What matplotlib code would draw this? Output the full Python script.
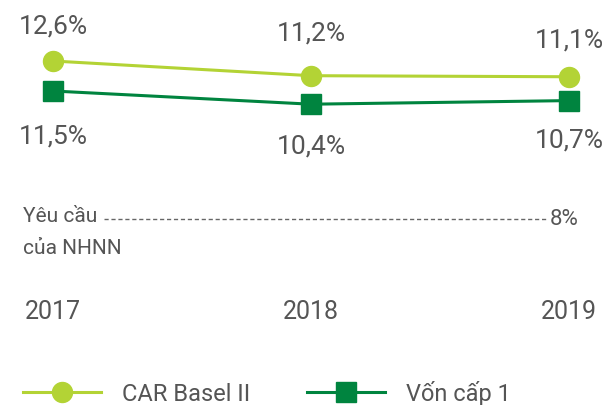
import numpy as np
import matplotlib
matplotlib.use("Agg")
import matplotlib.pyplot as plt
from matplotlib.lines import Line2D

plt.rcParams['font.family'] = ['Roboto', 'DejaVu Sans']

# data
years = ['2017', '2018', '2019']
car_basel = [12.6, 11.2, 11.1]
von_cap1 = [11.5, 10.4, 10.7]
car_labels = ['12,6%', '11,2%', '11,1%']
von_labels = ['11,5%', '10,4%', '10,7%']
req_label = 'Yêu cầu\ncủa NHNN'
req_value = '8%'
series_names = ['CAR Basel II', 'Vốn cấp 1']

light_green = '#b3d335'
dark_green = '#00843f'
text_grey = '#555555'

W, H = 603, 406
fig = plt.figure(figsize=(W / 100, H / 100), dpi=100)

def px_x(p):
    return p / W

def px_y(p):
    # pixel from top -> figure fraction
    return 1 - p / H

def set_ylim(ax, v0, p0, scale):
    top = v0 + p0 / scale
    ax.set_ylim(top - H / scale, top)

x = np.arange(len(years))

ax1 = fig.add_axes([0, 0, 1, 1])
ax2 = fig.add_axes([0, 0, 1, 1], sharex=ax1)
for ax in (ax1, ax2):
    ax.axis('off')
    ax.patch.set_alpha(0)

# x: 2017 at 53px, 2019 at 569px
xs = (569 - 53) / 2
ax1.set_xlim(-53 / xs, 2 + (W - 569) / xs)

set_ylim(ax1, car_basel[0], 62, 10.5)
set_ylim(ax2, von_cap1[0], 92, 12)

l1, = ax1.plot(x, car_basel, color=light_green, lw=2.2, marker='o',
               markersize=14.4, zorder=3)
l2, = ax2.plot(x, von_cap1, color=dark_green, lw=2.2, marker='s',
               markersize=14.4, zorder=3)

# value labels (offsets in px)
up_off = [36, 43, 37]
down_off = [45, 41, 39]
for i in range(len(years)):
    ax1.annotate(car_labels[i], (x[i], car_basel[i]),
                 xytext=(0, up_off[i] * 0.72), textcoords='offset points',
                 ha='center', va='center', fontsize=19, color=text_grey)
    ax2.annotate(von_labels[i], (x[i], von_cap1[i]),
                 xytext=(0, -down_off[i] * 0.72), textcoords='offset points',
                 ha='center', va='center', fontsize=19, color=text_grey)

# year labels
for i, yr in enumerate(years):
    ax1.annotate(yr, (x[i], px_y(312)), xycoords=('data', 'figure fraction'),
                 ha='center', va='center', fontsize=18, color=text_grey)

# requirement line
fig.text(px_x(23), px_y(217), 'Yêu cầu', ha='left', va='center',
         fontsize=15, color=text_grey)
fig.text(px_x(23), px_y(249), 'của NHNN', ha='left', va='center',
         fontsize=15, color=text_grey)
fig.add_artist(Line2D([px_x(104), px_x(547)], [px_y(220), px_y(220)],
                      transform=fig.transFigure, color='#666666', lw=1,
                      linestyle=(0, (3, 2))))
fig.text(px_x(550), px_y(220), req_value, ha='left', va='center',
         fontsize=16, color=text_grey)

# legend
fig.legend([l1, l2], series_names, loc='center left',
           bbox_to_anchor=(px_x(23), px_y(394)), ncol=2, frameon=False,
           fontsize=17, labelcolor=text_grey, handlelength=3.3,
           handletextpad=0.9, columnspacing=2.4, borderpad=0,
           borderaxespad=0)

fig.savefig('out.png', dpi=100)
